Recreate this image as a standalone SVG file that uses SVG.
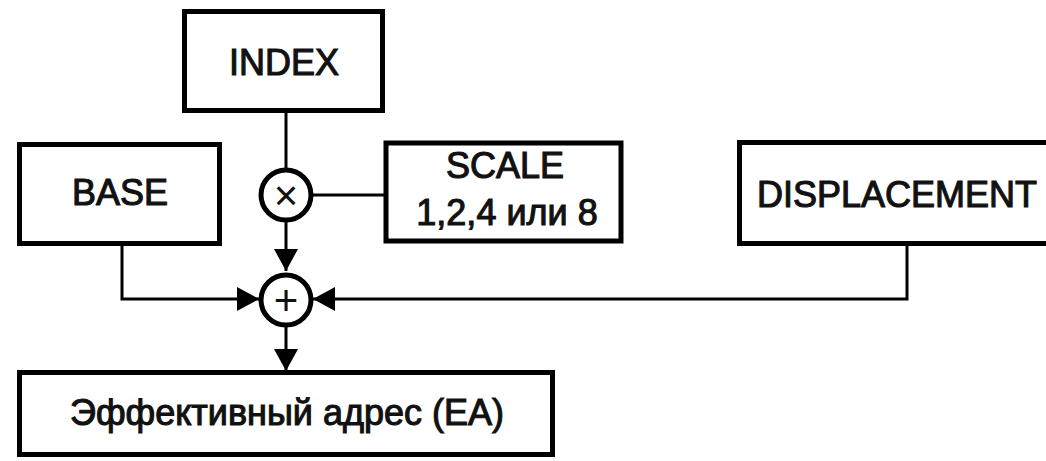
<svg xmlns="http://www.w3.org/2000/svg" width="1046" height="461" viewBox="0 0 1046 461">
  <style>
    .box { fill: #ffffff; stroke: #000000; stroke-width: 5; }
    .op { fill: #ffffff; stroke: #000000; stroke-width: 5; }
    .lbl { font-family: "Liberation Sans", Arial, sans-serif; font-size: 36px; fill: #111111; text-anchor: middle; stroke: #111111; stroke-width: 1.1; }
    .sym { font-family: "Liberation Sans", Arial, sans-serif; font-size: 42px; fill: #111111; text-anchor: middle; }
    .wire { fill: none; stroke: #000000; stroke-width: 3; }
  </style>
  <defs>
    <marker id="arrow" viewBox="0 0 22 24" refX="22" refY="12" markerWidth="22" markerHeight="24" markerUnits="userSpaceOnUse" orient="auto">
      <path d="M0,0 L22,12 L0,24 Z" fill="#000000"/>
    </marker>
  </defs>
  <rect x="0" y="0" width="1046" height="461" fill="#ffffff"/>

  <g id="connectors">
    <line class="wire" x1="286" y1="113" x2="286" y2="170"/>
    <line class="wire" x1="311" y1="195" x2="386" y2="195"/>
    <line class="wire" x1="286" y1="220" x2="286" y2="271" marker-end="url(#arrow)"/>
    <polyline class="wire" points="122,246 122,299 259,299" marker-end="url(#arrow)"/>
    <polyline class="wire" points="907,246 907,299 313,299" marker-end="url(#arrow)"/>
    <line class="wire" x1="286" y1="325" x2="286" y2="371" marker-end="url(#arrow)"/>
  </g>

  <g id="index">
    <rect class="box" x="184.5" y="11.5" width="198" height="99"/>
    <text class="lbl" x="284" y="75">INDEX</text>
  </g>
  <g id="base">
    <rect class="box" x="19.5" y="144.5" width="200" height="99"/>
    <text class="lbl" x="120" y="205">BASE</text>
  </g>
  <g id="scale">
    <rect class="box" x="386" y="143" width="235" height="98"/>
    <text class="lbl" x="505" y="178">SCALE</text>
    <text class="lbl" x="507" y="225">1,2,4 или 8</text>
  </g>
  <g id="displacement">
    <rect class="box" x="739.5" y="142.5" width="320" height="101"/>
    <text class="lbl" x="897" y="207">DISPLACEMENT</text>
  </g>
  <g id="multiply">
    <circle class="op" cx="286" cy="195" r="25"/>
    <text class="sym" x="286" y="210">×</text>
  </g>
  <g id="adder">
    <circle class="op" cx="286" cy="300" r="25"/>
    <text class="sym" x="286" y="314.5">+</text>
  </g>
  <g id="ea">
    <rect class="box" x="19.5" y="372.5" width="533" height="82"/>
    <text class="lbl" x="287" y="425">Эффективный адрес (EA)</text>
  </g>
</svg>
